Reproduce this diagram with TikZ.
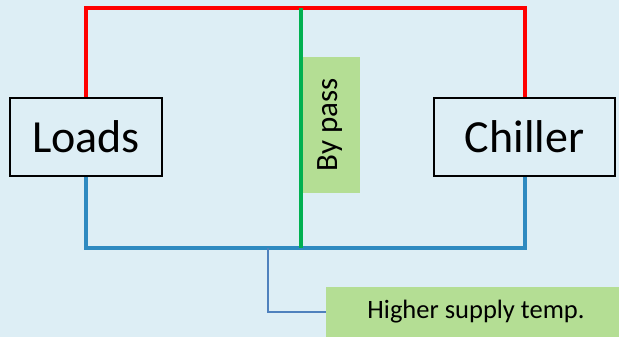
\documentclass[tikz,border=0pt]{standalone}
\usepackage{fontspec}
\setmainfont{Carlito}
\usepackage{tikz}
\usetikzlibrary{positioning}

\definecolor{bgblue}{RGB}{221,238,245}
\definecolor{pipered}{RGB}{255,0,0}
\definecolor{pipeblue}{RGB}{46,138,192}
\definecolor{pipegreen}{RGB}{0,176,80}
\definecolor{notegreen}{RGB}{180,222,148}
\definecolor{thinblue}{RGB}{79,129,189}

\tikzset{
  unit/.style={draw=black,line width=1.5pt,minimum height=78pt,inner sep=0pt,font=\fontsize{46}{50}\selectfont},
  note/.style={fill=notegreen,inner sep=0pt},
  pipe/.style={line width=4pt},
}

\begin{document}
\begin{tikzpicture}[x=1pt,y=-1pt]

\fill[bgblue] (0,0) rectangle (619,337);
\useasboundingbox (0,0) rectangle (619,337);

\node[unit,minimum width=152pt] (loads) at (86,137) {Loads};
\node[unit,minimum width=181pt] (chiller) at (524.5,137) {Chiller};

\coordinate (top) at (301,8);
\coordinate (bottom) at (301,248);
\coordinate (tap) at (268,248);

\node[note,rotate=90,minimum width=136pt,minimum height=59pt,font=\fontsize{31}{34}\selectfont] (bypass) at (330.5,125) {By pass};
\node[note,minimum width=300pt,minimum height=50pt,font=\fontsize{26.5}{30}\selectfont] (supply) at (476,312) {Higher supply temp.};

% supply and return pipes
\draw[pipe,pipered] (loads.north) |- (top) -| (chiller.north);
\draw[pipe,pipeblue] (loads.south) |- (bottom) -| (chiller.south);
\draw[pipe,pipegreen] (top) -- (bottom);

\draw[thinblue,line width=1.2pt] (tap) |- (supply.west);

\end{tikzpicture}
\end{document}
